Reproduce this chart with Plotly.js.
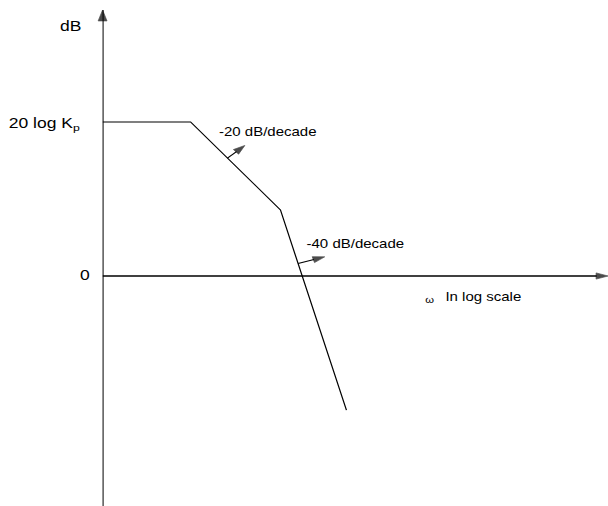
<!DOCTYPE html>
<html>
<head>
<meta charset="utf-8">
<script src="https://cdn.plot.ly/plotly-3.0.1.min.js"></script>
<style>
  html, body { margin: 0; padding: 0; background: #fff; overflow: hidden; }
  /* the sketch is drawn narrow and stretched horizontally to fill the page */
  #bode { width: 486px; height: 506px; transform: scaleX(1.25103); transform-origin: 0 0; }
</style>
</head>
<body>
<div id="bode"></div>
<script>
// Asymptotic Bode magnitude: flat gain, then -20 dB/decade, then -40 dB/decade
const omega = [0.1, 1, 10.5, 59];
const magDb = [35, 35, 15, -30.5];

const gainLabels = ['0', '20 log K<sub>p</sub>'];
const gainLevels = [0, magDb[0]];
const slopeLabels = ['-20 dB/decade', '-40 dB/decade'];
const yName = 'dB';
const xSymbol = 'ω';
const xName = 'In log scale';

const W = 486, H = 506;
const margin = { l: 82, r: 0, t: 10, b: 0, pad: 0 };
const xRange = [-1, 4.743];      // log10 ω
const yRange = [-52.27, 60.45];  // dB
const pxPerDecade = (W - margin.l - margin.r) / (xRange[1] - xRange[0]);
const pxPerDb = (H - margin.t - margin.b) / (yRange[1] - yRange[0]);

const ink = '#000';
const font = (size) => ({ family: 'Liberation Sans, Arial, sans-serif', size: size, color: ink });

const logW = omega.map(Math.log10);
// point at fraction t along asymptote segment i, in axis units (log10 ω, dB)
function onSegment(i, t) {
  return [logW[i] + t * (logW[i + 1] - logW[i]), magDb[i] + t * (magDb[i + 1] - magDb[i])];
}

// a straight line ending in a filled arrowhead at its second point
function arrow(logX, y, size, width) {
  return {
    x: logX.map(v => Math.pow(10, v)), y: y, type: 'scatter', mode: 'lines+markers',
    line: { color: ink, width: width },
    marker: { symbol: ['circle', 'arrow'], size: [0, size], angleref: 'previous',
              color: ink, line: { color: ink, width: 0.6 } },
    cliponaxis: false, hoverinfo: 'skip', showlegend: false
  };
}

const traces = [];

// axes: vertical dB axis pointing up, frequency axis along 0 dB pointing right
traces.push(arrow([xRange[0], xRange[0]], [yRange[0], yRange[1]], 11.5, 1.6));
traces.push(arrow([xRange[0], xRange[1]], [gainLevels[0], gainLevels[0]], 10, 1.3));

// the asymptotes
traces.push({
  x: omega, y: magDb, type: 'scatter', mode: 'lines',
  line: { color: ink, width: 1 }, cliponaxis: false, hoverinfo: 'skip', showlegend: false
});

// small arrows leaving each sloped segment (offsets in pixels)
const slopeMarks = [
  { seg: 1, t: 0.41, dx: 13.9, dy: -12.6 },
  { seg: 2, t: 0.267, dx: 21.3, dy: -6.6 }
];
slopeMarks.forEach(m => {
  const p = onSegment(m.seg, m.t);
  const tip = [p[0] + m.dx / pxPerDecade, p[1] - m.dy / pxPerDb];
  traces.push(arrow([p[0], tip[0]], [p[1], tip[1]], 10, 1));
});

const annotations = [];

// slope labels
const slopeLabelPos = [[0.295, 32.8], [1.284, 7.3]];
slopeLabels.forEach((s, i) => {
  annotations.push({
    xref: 'x', yref: 'y', x: slopeLabelPos[i][0], y: slopeLabelPos[i][1],
    text: s, showarrow: false, xanchor: 'left', yanchor: 'middle', font: font(12)
  });
});

// gain level labels left of the vertical axis (paper x, since they sit outside the plot)
const gainLabelX = [-0.0209, -0.0407];
const gainLabelY = [0.34, 34.5];
gainLabels.forEach((s, i) => {
  annotations.push({
    xref: 'paper', yref: 'y', x: gainLabelX[i], y: gainLabelY[i],
    text: s, showarrow: false, xanchor: 'right', yanchor: 'middle', font: font(14)
  });
});

// axis names
annotations.push({
  xref: 'paper', yref: 'y', x: -0.0368, y: 56.9, text: yName, showarrow: false,
  xanchor: 'right', yanchor: 'middle', font: font(14)
});
annotations.push({
  xref: 'x', yref: 'y', x: 2.716, y: -5.45, text: xSymbol, showarrow: false,
  xanchor: 'center', yanchor: 'middle', font: font(9)
});
annotations.push({
  xref: 'x', yref: 'y', x: 2.863, y: -4.7, text: xName, showarrow: false,
  xanchor: 'left', yanchor: 'middle', font: font(12)
});

const hiddenAxis = {
  showline: false, showgrid: false, zeroline: false, showticklabels: false, ticks: '', fixedrange: true
};

const layout = {
  width: W, height: H,
  margin: margin,
  paper_bgcolor: '#fff', plot_bgcolor: '#fff',
  xaxis: Object.assign({ type: 'log', range: xRange }, hiddenAxis),
  yaxis: Object.assign({ type: 'linear', range: yRange }, hiddenAxis),
  annotations: annotations,
  showlegend: false
};

Plotly.newPlot('bode', traces, layout, { displayModeBar: false, staticPlot: true }).then(gd => {
  // drop empty placeholder text nodes left by the hidden axes
  gd.querySelectorAll('svg text').forEach(t => {
    if (!t.textContent.trim()) t.remove();
  });
});
</script>
</body>
</html>
